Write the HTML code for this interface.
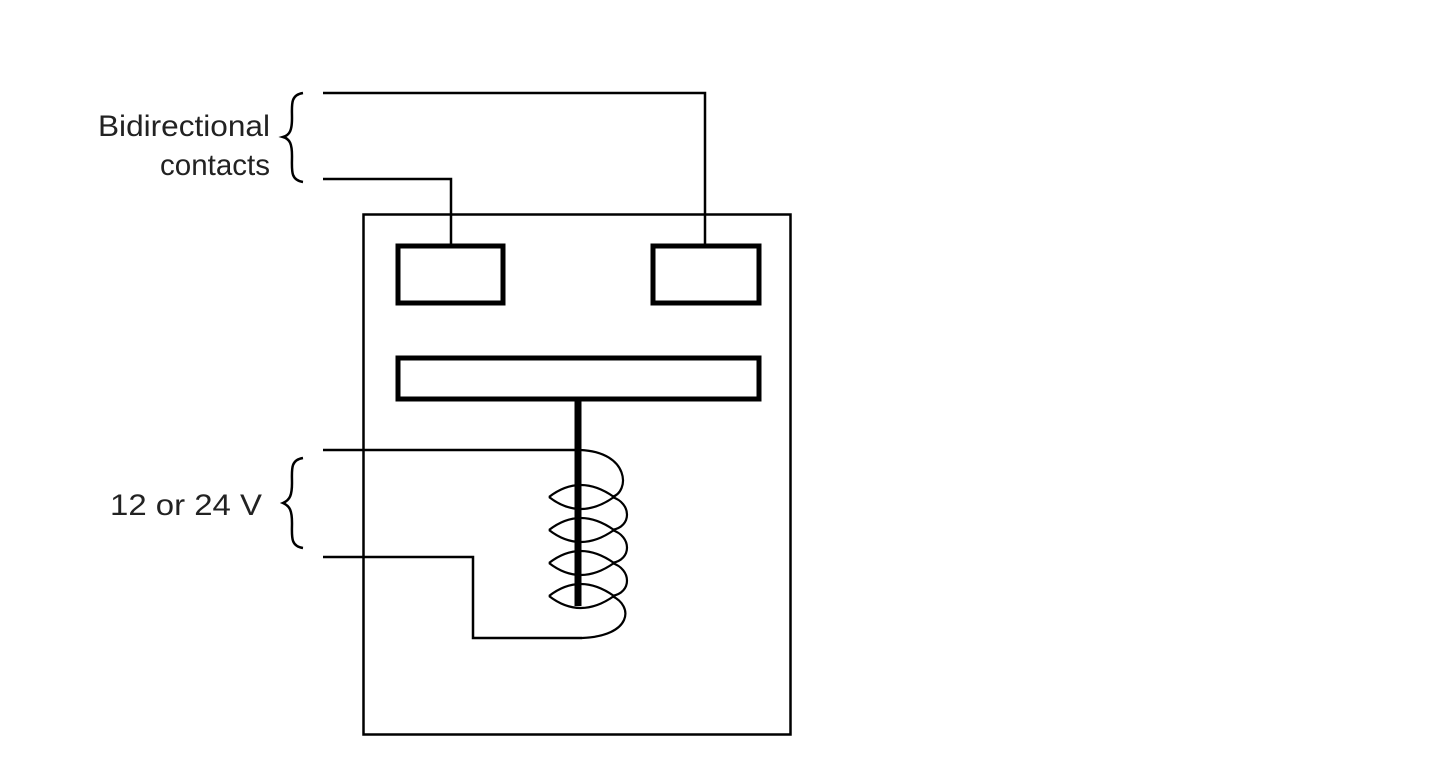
<!DOCTYPE html>
<html><head><style>html,body{margin:0;padding:0;background:#fff;width:1440px;height:782px;overflow:hidden}</style></head>
<body>
<svg width="1440" height="782" viewBox="0 0 1440 782" xmlns="http://www.w3.org/2000/svg">
<g fill="none" stroke="#000">
<rect x="363.5" y="214.5" width="427" height="520" stroke-width="2.5"/>
<rect x="398" y="246" width="105" height="57" stroke-width="5"/>
<rect x="653" y="246" width="106" height="57" stroke-width="5"/>
<rect x="398" y="358" width="361" height="41" stroke-width="5"/>
<polyline points="323,93 705,93 705,246" stroke-width="2.5"/>
<polyline points="323,179 451,179 451,246" stroke-width="2.5"/>
<line x1="578" y1="399" x2="578" y2="606" stroke-width="7"/>
<polyline points="323,450 580,450" stroke-width="2.5"/>
<polyline points="323,557 473,557 473,638 582,638" stroke-width="2.5"/>
<g stroke-width="2.2">
<path d="M580,450 C630,452 630,492 612,497"/>
<path d="M612,497 C632,503 632,527 612,530"/>
<path d="M612,530 C632,536 632,560 612,563"/>
<path d="M612,563 C632,569 632,593 612,596"/>
<path d="M612,596 C634,606 632,636 582,638"/>
<path d="M549,497 Q580,473 614,497 Q580,521 549,497"/>
<path d="M549,530 Q580,506 614,530 Q580,554 549,530"/>
<path d="M549,563 Q580,539 614,563 Q580,587 549,563"/>
<path d="M549,596 Q580,572 614,596 Q580,620 549,596"/>
</g>
<path d="M303,93 C290,95 292,105 292,118 C292,130 290,135 283,137 C290,139 292,144 292,156 C292,170 290,180 303,182" stroke-width="2.5"/>
<path d="M303,458 C290,460 292,470 292,483 C292,495 290,500 283,503 C290,506 292,511 292,523 C292,536 290,546 303,548" stroke-width="2.5"/>
</g>
<g font-family="Liberation Sans, sans-serif" font-size="30" fill="#222">
<text x="98" y="136" textLength="172" lengthAdjust="spacingAndGlyphs">Bidirectional</text>
<text x="160" y="175" textLength="110" lengthAdjust="spacingAndGlyphs">contacts</text>
<text x="110" y="515" textLength="152" lengthAdjust="spacingAndGlyphs">12 or 24 V</text>
</g>
</svg>
</body></html>
